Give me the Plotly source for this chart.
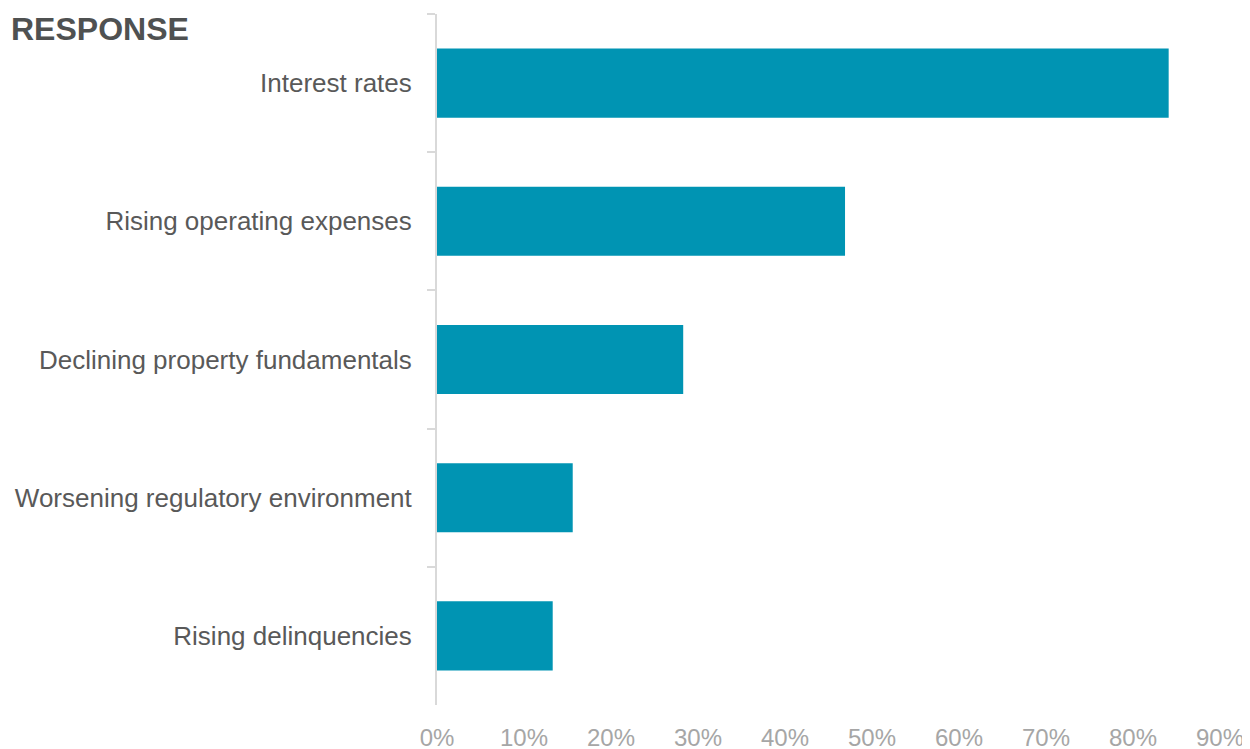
import plotly.graph_objects as go

categories = [
    "Interest rates",
    "Rising operating expenses",
    "Declining property fundamentals",
    "Worsening regulatory environment",
    "Rising delinquencies",
]
values = [0.841, 0.469, 0.283, 0.156, 0.133]
tick_vals = [0, 0.1, 0.2, 0.3, 0.4, 0.5, 0.6, 0.7, 0.8, 0.9]
tick_text = ["0%", "10%", "20%", "30%", "40%", "50%", "60%", "70%", "80%", "90%"]

fig = go.Figure(
    go.Bar(
        x=values,
        y=categories,
        orientation="h",
        marker=dict(color="#0094b3", line=dict(width=0)),
        hoverinfo="x+y",
    )
)

fig.update_layout(
    width=1250,
    height=749,
    margin=dict(l=429, r=38, t=6, b=52),
    paper_bgcolor="white",
    plot_bgcolor="white",
    bargap=0.5,
    showlegend=False,
    font=dict(family="Liberation Sans, Arial, sans-serif"),
    annotations=[
        dict(
            text="<b>RESPONSE</b>",
            xref="paper",
            yref="paper",
            x=-0.5466,
            y=1.0072,
            xanchor="left",
            yanchor="top",
            showarrow=False,
            font=dict(size=32, color="#4f5151"),
        )
    ],
)

fig.update_xaxes(
    range=[0, 0.9],
    tickvals=tick_vals,
    ticktext=tick_text,
    showgrid=False,
    zeroline=False,
    showline=False,
    ticks="",
    tickfont=dict(size=24, color="#a6a6a6"),
    ticklabelstandoff=16,
)

fig.update_yaxes(
    categoryorder="array",
    categoryarray=categories,
    autorange="reversed",
    showgrid=False,
    zeroline=False,
    showline=True,
    linecolor="#d9d9d9",
    linewidth=2,
    ticks="outside",
    tickson="boundaries",
    ticklen=8,
    tickcolor="#d9d9d9",
    tickwidth=2,
    tickfont=dict(size=26, color="#595959"),
    ticklabelstandoff=18,
)

fig.write_html("out.html")
